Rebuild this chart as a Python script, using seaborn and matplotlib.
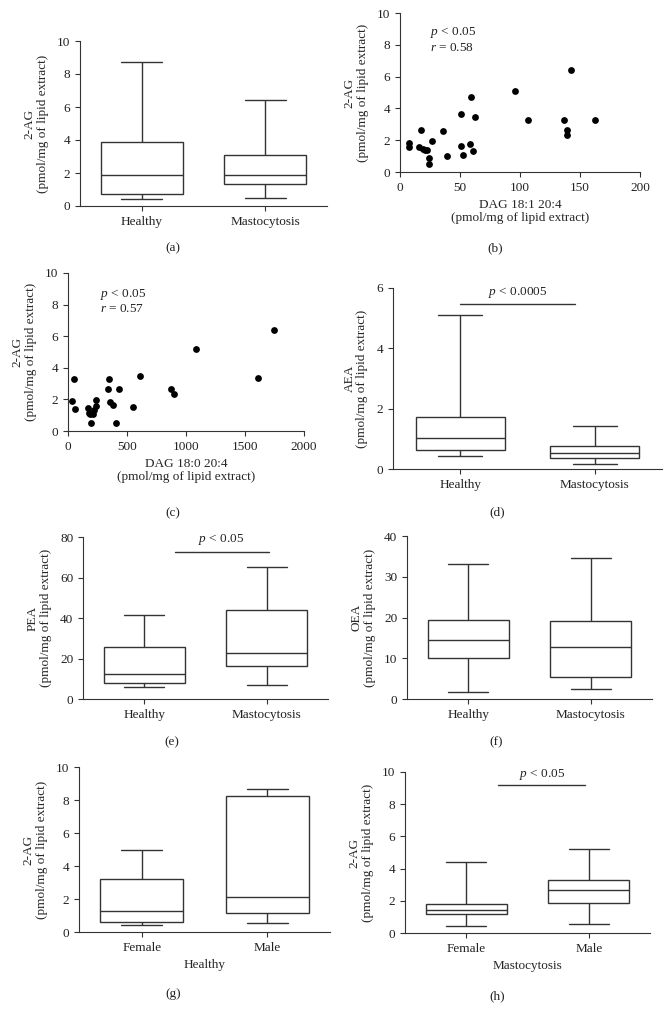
import numpy as np
import pandas as pd
import matplotlib
matplotlib.use("Agg")
import matplotlib.pyplot as plt
import seaborn as sns

# ---------------- data (five-number summaries: min, q1, median, q3, max) ----
groups_hm = ["Healthy", "Mastocytosis"]
groups_fm = ["Female", "Male"]

ag_healthy = [0.4, 0.72, 1.9, 3.9, 8.7]
ag_masto = [0.5, 1.35, 1.85, 3.1, 6.45]

aea_healthy = [0.42, 0.64, 1.02, 1.71, 5.1]
aea_masto = [0.18, 0.38, 0.52, 0.75, 1.41]

pea_healthy = [5.8, 7.9, 12.2, 25.5, 41.5]
pea_masto = [6.75, 16.5, 22.7, 43.8, 65.3]

oea_healthy = [1.6, 10.1, 14.6, 19.4, 33.1]
oea_masto = [2.45, 5.5, 12.8, 19.1, 34.5]

ag_h_female = [0.4, 0.63, 1.27, 3.19, 5.0]
ag_h_male = [0.57, 1.17, 2.1, 8.22, 8.65]

ag_m_female = [0.45, 1.15, 1.40, 1.79, 4.41]
ag_m_male = [0.56, 1.88, 2.66, 3.3, 5.22]

# scatter (b): DAG 18:1 20:4 vs 2-AG
dag181_x = [7.2, 7.8, 16, 17.8, 18.9, 20.8, 22.8, 23.9, 24.4, 26.7, 35.6, 39.2,
            51.1, 51.1, 52.8, 58.3, 59.4, 60.6, 62.8, 96.1, 106.9, 136.9,
            138.9, 139.4, 142.2, 162.8]
dag181_y = [1.82, 1.55, 1.57, 2.65, 1.42, 1.4, 1.4, 0.88, 0.5, 1.94, 2.61, 1.0,
            3.65, 1.65, 1.06, 1.77, 4.72, 1.29, 3.47, 5.11, 3.24, 3.28,
            2.63, 2.32, 6.43, 3.3]

# scatter (c): DAG 18:0 20:4 vs 2-AG
dag180_x = [31, 54, 59, 167, 178, 190, 195, 212, 223, 235, 240, 337, 351, 356,
            382, 407, 433, 552, 614, 877, 897, 1083, 1613, 1745]
dag180_y = [1.87, 3.3, 1.41, 1.43, 1.16, 1.05, 0.53, 1.07, 1.33, 1.6, 1.96, 2.63,
            3.26, 1.83, 1.66, 0.53, 2.67, 1.49, 3.47, 2.63, 2.36, 5.16, 3.35, 6.38]

# ---------------- style -----------------------------------------------------
sns.set_style("ticks")
plt.rcParams["font.family"] = ["Liberation Serif", "DejaVu Serif"]
plt.rcParams["mathtext.fontset"] = "custom"
plt.rcParams["mathtext.rm"] = "Liberation Serif"
plt.rcParams["mathtext.it"] = "Liberation Serif:italic"
plt.rcParams["font.size"] = 9.5
plt.rcParams["axes.linewidth"] = 0.8
plt.rcParams["axes.edgecolor"] = "#333333"
plt.rcParams["xtick.color"] = "#333333"
plt.rcParams["ytick.color"] = "#333333"
plt.rcParams["xtick.major.size"] = 3.5
plt.rcParams["ytick.major.size"] = 3.5
plt.rcParams["xtick.major.width"] = 0.8
plt.rcParams["ytick.major.width"] = 0.8
plt.rcParams["text.color"] = "#222222"
plt.rcParams["xtick.labelcolor"] = "#222222"
plt.rcParams["ytick.labelcolor"] = "#222222"

LC = "#333333"
FS = 9.5
YLAB = "2-AG\n(pmol/mg of lipid extract)"

W, H = 671, 1021
fig = plt.figure(figsize=(W / 100, H / 100), dpi=100)


def axes_px(l, r, t, b):
    return fig.add_axes([l / W, 1 - b / H, (r - l) / W, (b - t) / H])


def box_panel(ax, cats, s1, s2, ylim, yticks, ylabel, xlabel=None):
    df = pd.DataFrame({
        "group": [cats[0]] * len(s1) + [cats[1]] * len(s2),
        "value": list(s1) + list(s2),
    })
    sns.boxplot(data=df, x="group", y="value", order=cats, whis=(0, 100),
                width=0.66, color="white", linecolor=LC, linewidth=1.0,
                showfliers=False, ax=ax)
    ax.set_xlim(-0.5, 1.5)
    ax.set_ylim(*ylim)
    ax.set_yticks(yticks)
    ax.set_ylabel(ylabel, linespacing=1.1, labelpad=6)
    ax.set_xlabel(xlabel if xlabel else "")
    sns.despine(ax=ax)


def sig(ax, x0, x1, y, ty, tx, text):
    ax.plot([x0, x1], [y, y], color=LC, lw=1.0, clip_on=False)
    ax.text(tx, ty, text, ha="center", va="bottom", fontsize=FS)


# (a)
ax_a = axes_px(80, 327, 41, 206)
box_panel(ax_a, groups_hm, ag_healthy, ag_masto, (0, 10), range(0, 11, 2), YLAB)

# (b)
ax_b = axes_px(400, 640, 13, 172)
sns.scatterplot(x=dag181_x, y=dag181_y, ax=ax_b, color="black", s=24,
                edgecolor="black", linewidth=0, clip_on=False)
ax_b.set_xlim(0, 200)
ax_b.set_ylim(0, 10)
ax_b.set_xticks(range(0, 201, 50))
ax_b.set_yticks(range(0, 11, 2))
ax_b.set_ylabel(YLAB, linespacing=1.1, labelpad=6)
ax_b.set_xlabel("DAG 18:1 20:4\n(pmol/mg of lipid extract)", linespacing=1.1)
ax_b.text(25, 7.6, "$p$ < 0.05\n$r$ = 0.58", fontsize=FS, linespacing=1.2)
sns.despine(ax=ax_b)

# (c)
ax_c = axes_px(68, 304, 273, 431)
sns.scatterplot(x=dag180_x, y=dag180_y, ax=ax_c, color="black", s=24,
                edgecolor="black", linewidth=0, clip_on=False)
ax_c.set_xlim(0, 2000)
ax_c.set_ylim(0, 10)
ax_c.set_xticks(range(0, 2001, 500))
ax_c.set_yticks(range(0, 11, 2))
ax_c.set_ylabel(YLAB, linespacing=1.1, labelpad=6)
ax_c.set_xlabel("DAG 18:0 20:4\n(pmol/mg of lipid extract)", linespacing=1.1)
ax_c.text(270, 7.5, "$p$ < 0.05\n$r$ = 0.57", fontsize=FS, linespacing=1.2)
sns.despine(ax=ax_c)

# (d)
ax_d = axes_px(393, 662, 288, 469)
box_panel(ax_d, groups_hm, aea_healthy, aea_masto, (0, 6), [0, 2, 4, 6],
          "AEA\n(pmol/mg of lipid extract)")
sig(ax_d, 0, 0.85, 5.47, 5.6, 0.43, "$p$ < 0.0005")

# (e)
ax_e = axes_px(83, 328, 537, 699)
box_panel(ax_e, groups_hm, pea_healthy, pea_masto, (0, 80), range(0, 81, 20),
          "PEA\n(pmol/mg of lipid extract)")
sig(ax_e, 0.25, 1.02, 72.8, 75, 0.63, "$p$ < 0.05")

# (f)
ax_f = axes_px(407, 652, 536, 699)
box_panel(ax_f, groups_hm, oea_healthy, oea_masto, (0, 40), range(0, 41, 10),
          "OEA\n(pmol/mg of lipid extract)")

# (g)
ax_g = axes_px(79, 330, 767, 932)
box_panel(ax_g, groups_fm, ag_h_female, ag_h_male, (0, 10), range(0, 11, 2),
          YLAB, xlabel="Healthy")

# (h)
ax_h = axes_px(405, 650, 772, 933)
box_panel(ax_h, groups_fm, ag_m_female, ag_m_male, (0, 10), range(0, 11, 2),
          YLAB, xlabel="Mastocytosis")
sig(ax_h, 0.26, 0.97, 9.2, 9.35, 0.62, "$p$ < 0.05")

# panel letters
for lab, x, y in [("(a)", 173, 248), ("(b)", 495, 248), ("(c)", 173, 513),
                  ("(d)", 497, 512), ("(e)", 172, 742), ("(f)", 496, 742),
                  ("(g)", 173, 994), ("(h)", 497, 996)]:
    fig.text(x / W, 1 - y / H, lab, ha="center", va="center", fontsize=FS)

fig.savefig("out.png", dpi=100)
